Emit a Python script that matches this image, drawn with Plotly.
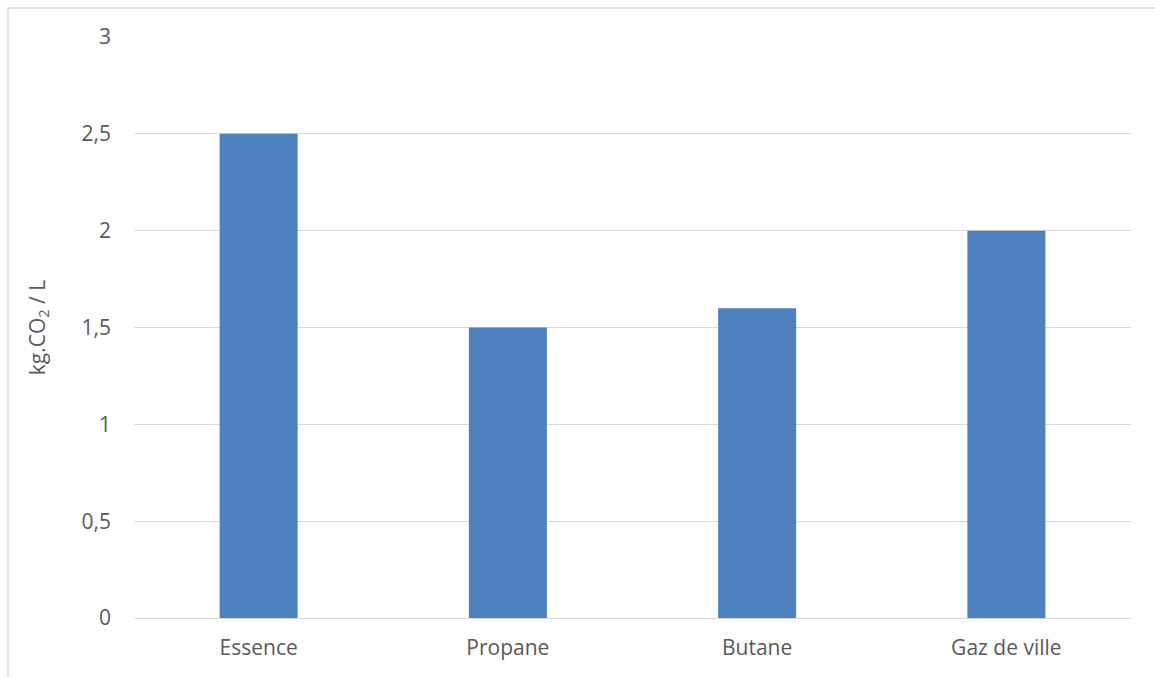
import plotly.graph_objects as go

categories = ["Essence", "Propane", "Butane", "Gaz de ville"]
values = [2.5, 1.5, 1.6, 2.0]
y_ticks = [0, 0.5, 1, 1.5, 2, 2.5, 3]
y_labels = ["0", "0,5", "1", "1,5", "2", "2,5", "3"]

W, H = 1155, 677
ml, mr, mt, mb = 134, 24, 37, 59
pw, ph = W - ml - mr, H - mt - mb

fig = go.Figure(go.Bar(x=categories, y=values, marker=dict(color="#4e81bd", line=dict(width=0))))

fig.update_layout(
    width=W, height=H,
    margin=dict(l=ml, r=mr, t=mt, b=mb),
    paper_bgcolor="white", plot_bgcolor="white",
    bargap=0.687,
    font=dict(family="Open Sans, Liberation Sans, sans-serif", size=21, color="#595959"),
    showlegend=False,
    xaxis=dict(showgrid=False, showline=True, linecolor="#d9d9d9", linewidth=1,
               ticks="", ticklabelstandoff=11, tickfont=dict(size=21, color="#595959")),
    yaxis=dict(range=[0, 3], tickvals=y_ticks, ticktext=y_labels,
               showgrid=True, gridcolor="#d9d9d9", gridwidth=1, zeroline=False,
               showline=False, ticks="", ticklabelstandoff=22,
               tickfont=dict(size=21, color="#595959"),
               title=dict(text="kg.CO<sub>2</sub> / L", font=dict(size=21, color="#595959"), standoff=30)),
    shapes=[dict(type="rect", xref="paper", yref="paper",
                 x0=(8 - ml) / pw, x1=(1170 - ml) / pw,
                 y0=-0.3, y1=(H - 8 - mb) / ph,
                 line=dict(color="#d9d9d9", width=1.5), fillcolor="rgba(0,0,0,0)", layer="below")],
)

fig.write_html("out.html")
